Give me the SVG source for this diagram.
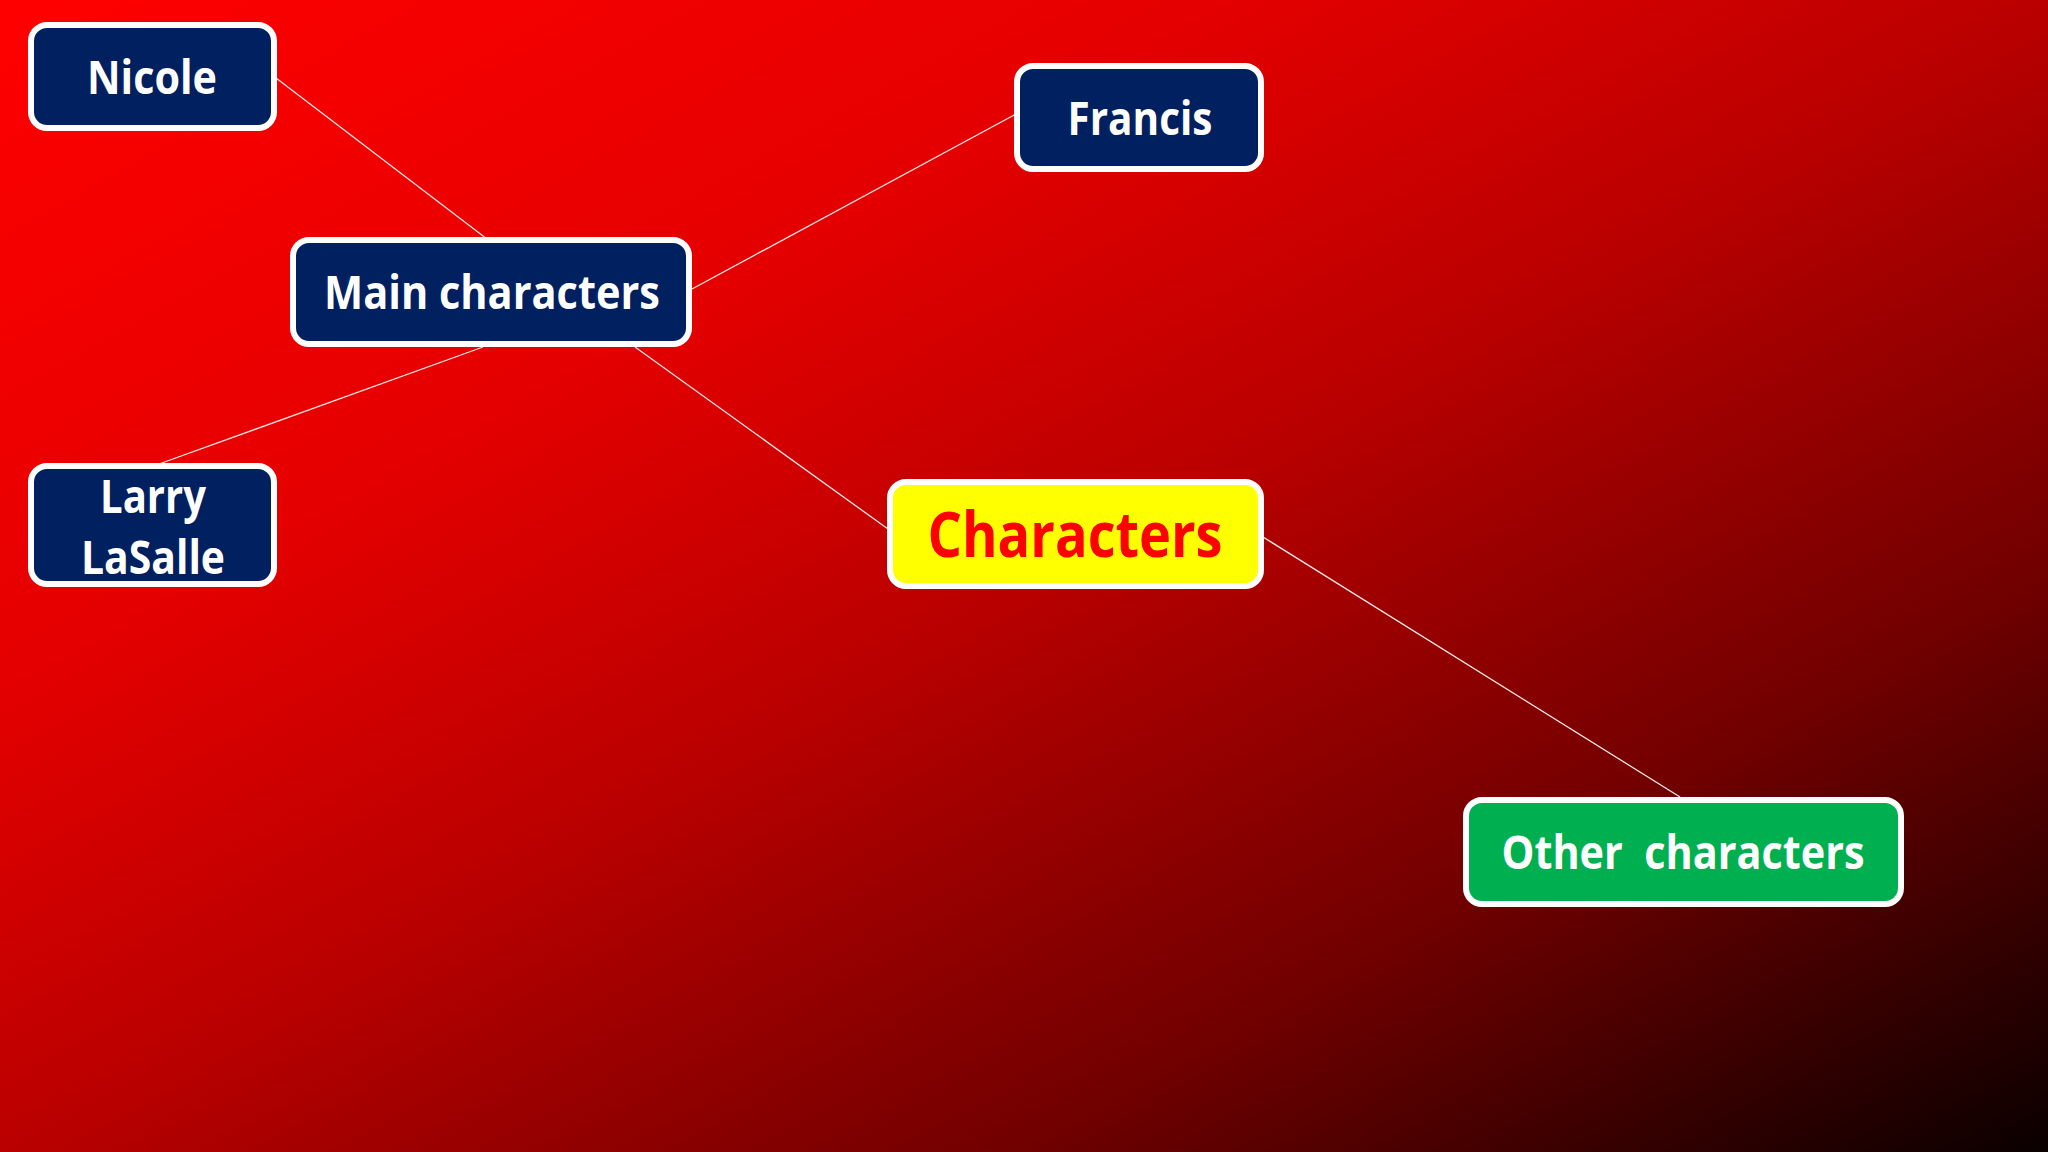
<svg xmlns="http://www.w3.org/2000/svg" width="2048" height="1152" viewBox="0 0 2048 1152">
  <defs>
    <linearGradient id="bg" x1="0" y1="0" x2="1" y2="1">
      <stop offset="0" stop-color="#ff0000"/>
      <stop offset="0.3" stop-color="#e40000"/>
      <stop offset="0.5" stop-color="#ba0000"/>
      <stop offset="0.75" stop-color="#700000"/>
      <stop offset="1" stop-color="#0a0000"/>
    </linearGradient>
    <style>
      .box { stroke: #ffffff; stroke-width: 6; }
      .navy { fill: #002060; }
      .yellow { fill: #ffff00; }
      .green { fill: #00b050; }
      .lbl { font-family: "Open Sans", "Liberation Sans", sans-serif; font-weight: bold; font-size: 46px; fill: #ffffff; text-anchor: middle; }
      .big { font-size: 62px; fill: #ff0000; }
      .conn { stroke: #ffffff; stroke-width: 1.3; fill: none; opacity: 0.9; }
    </style>
  </defs>
  <rect x="0" y="0" width="2048" height="1152" fill="url(#bg)"/>

  <g id="connectors">
    <line class="conn" x1="276" y1="78" x2="487" y2="239"/>
    <line class="conn" x1="692" y1="289" x2="1016" y2="114"/>
    <line class="conn" x1="483" y1="347" x2="159" y2="464"/>
    <line class="conn" x1="635" y1="347" x2="888" y2="529"/>
    <line class="conn" x1="1263" y1="537" x2="1680" y2="797"/>
  </g>

  <g id="nicole">
    <rect class="box navy" x="31" y="25" width="243" height="103" rx="16"/>
    <text class="lbl" x="152" y="94" textLength="130" lengthAdjust="spacingAndGlyphs">Nicole</text>
  </g>

  <g id="main-characters">
    <rect class="box navy" x="293" y="240" width="396" height="104" rx="16"/>
    <text class="lbl" x="492" y="309" textLength="336" lengthAdjust="spacingAndGlyphs">Main characters</text>
  </g>

  <g id="francis">
    <rect class="box navy" x="1017" y="66" width="244" height="103" rx="16"/>
    <text class="lbl" x="1140" y="135" textLength="145" lengthAdjust="spacingAndGlyphs">Francis</text>
  </g>

  <g id="larry-lasalle">
    <rect class="box navy" x="31" y="466" width="243" height="118" rx="16"/>
    <text class="lbl" x="153" y="513" textLength="106" lengthAdjust="spacingAndGlyphs">Larry</text>
    <text class="lbl" x="153" y="574" textLength="144" lengthAdjust="spacingAndGlyphs">LaSalle</text>
  </g>

  <g id="characters">
    <rect class="box yellow" x="890" y="482" width="371" height="104" rx="16"/>
    <text class="lbl big" x="1075" y="557" textLength="295" lengthAdjust="spacingAndGlyphs">Characters</text>
  </g>

  <g id="other-characters">
    <rect class="box green" x="1466" y="800" width="435" height="104" rx="16"/>
    <text class="lbl" x="1683" y="869" textLength="363" lengthAdjust="spacingAndGlyphs" xml:space="preserve">Other  characters</text>
  </g>
</svg>
